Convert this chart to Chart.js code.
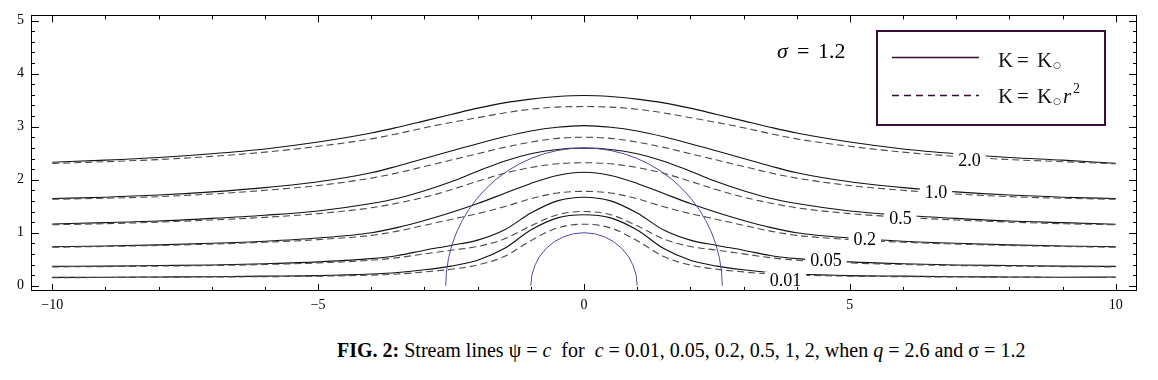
<!DOCTYPE html>
<html>
<head>
<meta charset="utf-8">
<script src="https://cdn.jsdelivr.net/npm/chart.js@4.4.0/dist/chart.umd.min.js"></script>
<style>
  html, body { margin: 0; padding: 0; background: #fff; }
  #wrap { position: relative; width: 1158px; height: 380px; }
  #c { position: absolute; left: 0; top: 0; }
  #cap { position: absolute; left: 337px; top: 338px; font-family: 'Liberation Serif', serif; font-size: 20px; white-space: pre; color: #000; line-height: 24px; }
</style>
</head>
<body>
<div id="wrap">
  <canvas id="c" width="1158" height="330"></canvas>
  <div id="cap"><b>FIG. 2:</b> Stream lines ψ = <i>c</i>  for  <i>c</i> = 0.01, 0.05, 0.2, 0.5, 1, 2, when <i>q</i> = 2.6 and σ = 1.2</div>
</div>
<script>
// ---- data ----
const xs = [-10,-9,-8,-7,-6,-5,-4,-3.5,-3,-2.5,-2,-1.5,-1,-0.5,0,0.5,1,1.5,2,2.5,3,3.5,4,5,6,7,8,9,10];

// K = K0 (solid)
const solid_2    = [2.33,2.37,2.42,2.49,2.58,2.71,2.88,2.99,3.11,3.23,3.35,3.45,3.52,3.57,3.59,3.57,3.52,3.45,3.35,3.23,3.11,2.99,2.88,2.71,2.58,2.49,2.42,2.37,2.31];
const solid_1    = [1.645,1.67,1.71,1.77,1.85,1.96,2.13,2.26,2.40,2.54,2.68,2.81,2.92,2.99,3.02,2.99,2.92,2.81,2.68,2.54,2.40,2.26,2.13,1.96,1.85,1.77,1.71,1.67,1.645];
const solid_05   = [1.165,1.19,1.22,1.27,1.33,1.41,1.55,1.65,1.79,1.96,2.16,2.35,2.49,2.57,2.595,2.57,2.49,2.35,2.16,1.96,1.79,1.65,1.55,1.41,1.33,1.27,1.22,1.19,1.16];
const solid_02   = [0.735,0.75,0.77,0.80,0.84,0.90,1.00,1.10,1.23,1.38,1.55,1.74,1.93,2.08,2.14,2.08,1.93,1.74,1.55,1.38,1.23,1.10,1.00,0.90,0.84,0.80,0.77,0.75,0.735];
const solid_005  = [0.364,0.37,0.38,0.39,0.415,0.45,0.51,0.57,0.67,0.76,0.86,1.05,1.37,1.60,1.67,1.60,1.37,1.05,0.86,0.76,0.67,0.57,0.51,0.45,0.415,0.39,0.38,0.37,0.364];
const solid_001  = [0.157,0.16,0.165,0.17,0.18,0.19,0.22,0.25,0.30,0.37,0.48,0.70,1.05,1.28,1.34,1.28,1.05,0.70,0.48,0.37,0.30,0.25,0.22,0.19,0.18,0.17,0.165,0.16,0.165];

// K = K0 r^2 (dashed)
const dashed_2   = [2.305,2.34,2.38,2.44,2.52,2.63,2.77,2.87,2.98,3.08,3.17,3.26,3.33,3.37,3.38,3.37,3.33,3.26,3.17,3.08,2.98,2.87,2.77,2.63,2.52,2.44,2.38,2.34,2.30];
const dashed_1   = [1.63,1.65,1.68,1.73,1.80,1.89,2.03,2.13,2.25,2.37,2.49,2.61,2.71,2.78,2.80,2.78,2.71,2.61,2.49,2.37,2.25,2.13,2.03,1.89,1.80,1.73,1.68,1.65,1.63];
const dashed_05  = [1.15,1.17,1.20,1.24,1.29,1.36,1.47,1.56,1.67,1.81,1.97,2.12,2.23,2.30,2.32,2.30,2.23,2.12,1.97,1.81,1.67,1.56,1.47,1.36,1.29,1.24,1.20,1.17,1.15];
const dashed_02  = [0.725,0.74,0.76,0.785,0.82,0.87,0.95,1.03,1.14,1.25,1.36,1.49,1.64,1.75,1.78,1.75,1.64,1.49,1.36,1.25,1.14,1.03,0.95,0.87,0.82,0.785,0.76,0.74,0.725];
const dashed_005 = [0.355,0.36,0.37,0.38,0.40,0.43,0.48,0.53,0.60,0.67,0.74,0.88,1.13,1.34,1.40,1.34,1.13,0.88,0.74,0.67,0.60,0.53,0.48,0.43,0.40,0.38,0.37,0.36,0.355];
const dashed_001 = [0.15,0.155,0.16,0.165,0.17,0.18,0.20,0.22,0.26,0.31,0.39,0.55,0.85,1.09,1.16,1.09,0.85,0.55,0.39,0.31,0.26,0.22,0.20,0.18,0.17,0.165,0.16,0.155,0.155];

const contourLabels = ['2.0','1.0','0.5','0.2','0.05','0.01'];
const contourLabelX = [7.25, 6.62, 5.95, 5.28, 4.55, 3.79];
const contourLabelY = [2.37, 1.77, 1.275, 0.867, 0.477, 0.10];

const circleRadii = [1, 2.6];   // inner sphere r = 1, outer q = 2.6

const xTickValues = [-10,-5,0,5,10];
const yTickValues = [0,1,2,3,4,5];

// ---- build ----
const solids  = [solid_2, solid_1, solid_05, solid_02, solid_005, solid_001];
const dasheds = [dashed_2, dashed_1, dashed_05, dashed_02, dashed_005, dashed_001];
const pts = arr => arr.map((v,i) => ({x: xs[i], y: v}));

const datasets = [];
dasheds.forEach(a => datasets.push({data: pts(a), borderColor:'#4a4a4a', borderWidth:1.1, borderDash:[7,4], pointRadius:0, cubicInterpolationMode:'monotone', fill:false}));
solids.forEach(a => datasets.push({data: pts(a), borderColor:'#111', borderWidth:1.1, pointRadius:0, cubicInterpolationMode:'monotone', fill:false}));

Chart.defaults.font.family = "'Liberation Serif', serif";
Chart.defaults.color = '#000';

const decor = {
  id: 'decor',
  afterDatasetsDraw(chart) {
    const {ctx, chartArea: a, scales: {x, y}} = chart;
    ctx.save();
    ctx.beginPath(); ctx.rect(a.left, a.top, a.right - a.left, a.bottom - a.top); ctx.clip();
    ctx.strokeStyle = '#4b4ba8'; ctx.lineWidth = 1;
    const cx = x.getPixelForValue(0), cy = y.getPixelForValue(0);
    circleRadii.forEach(r => {
      const rx = x.getPixelForValue(r) - cx, ry = cy - y.getPixelForValue(r);
      ctx.beginPath(); ctx.ellipse(cx, cy, rx, ry, 0, Math.PI, 2 * Math.PI); ctx.stroke();
    });
    ctx.font = "18px 'Liberation Serif'";
    ctx.textAlign = 'center'; ctx.textBaseline = 'middle';
    contourLabels.forEach((t, i) => {
      const px = x.getPixelForValue(contourLabelX[i]), py = y.getPixelForValue(contourLabelY[i]);
      const w = ctx.measureText(t).width + 10;
      ctx.fillStyle = '#fff'; ctx.fillRect(px - w/2, py - 9, w, 16);
      ctx.fillStyle = '#000'; ctx.fillText(t, px, py + 1);
    });
    ctx.restore();
  },
  afterDraw(chart) {
    const {ctx, chartArea: a, scales: {x, y}} = chart;
    ctx.save();
    ctx.strokeStyle = '#000'; ctx.lineWidth = 1;
    ctx.strokeRect(Math.round(a.left) + 0.5, Math.round(a.top) + 0.5, Math.round(a.right - a.left) - 1, Math.round(a.bottom - a.top) - 1);
    const line = (x1, y1, x2, y2) => { ctx.beginPath(); ctx.moveTo(x1, y1); ctx.lineTo(x2, y2); ctx.stroke(); };
    for (let v = -10; v <= 10; v++) {
      const px = Math.round(x.getPixelForValue(v)) + 0.5;
      const len = (v % 5 === 0) ? 7 : 4;
      line(px, a.bottom, px, a.bottom - len);
      line(px, a.top, px, a.top + len);
    }
    for (let k = 0; k <= 25; k++) {
      const py = Math.round(y.getPixelForValue(k * 0.2)) + 0.5;
      const len = (k % 5 === 0) ? 8 : 4;
      line(a.left, py, a.left + len, py);
      line(a.right, py, a.right - len, py);
    }
    // sigma annotation
    ctx.fillStyle = '#000'; ctx.textBaseline = 'alphabetic'; ctx.textAlign = 'left';
    ctx.font = "italic 22px 'Liberation Serif'"; ctx.fillText('σ', 777, 58);
    ctx.font = "22px 'Liberation Serif'"; ctx.fillText('=', 797, 58); ctx.fillText('1.2', 818, 58);
    // legend
    ctx.strokeStyle = '#3a0c3a'; ctx.lineWidth = 2;
    ctx.strokeRect(877, 31, 228, 94);
    ctx.lineWidth = 1.6;
    line(892, 57.5, 979, 57.5);
    ctx.setLineDash([7, 5]); line(892, 95.5, 979, 95.5); ctx.setLineDash([]);
    ctx.fillStyle = '#111';
    const row = (by, withR) => {
      ctx.font = "21px 'Liberation Serif'";
      ctx.fillText('K', 998, by); ctx.fillText('=', 1017, by); ctx.fillText('K', 1037, by);
      ctx.font = "9px 'DejaVu Sans'"; ctx.fillText('○', 1053, by + 1);
      if (withR) {
        ctx.font = "italic 21px 'Liberation Serif'"; ctx.fillText('r', 1063, by);
        ctx.font = "14px 'Liberation Serif'"; ctx.fillText('2', 1073, by - 10);
      }
    };
    row(67, false);
    row(103, true);
    ctx.restore();
  }
};

new Chart(document.getElementById('c'), {
  type: 'line',
  data: { datasets },
  options: {
    responsive: false,
    animation: false,
    devicePixelRatio: 1,
    layout: { padding: { left: 0, top: 15, right: 21, bottom: 0 } },
    plugins: { legend: { display: false }, tooltip: { enabled: false } },
    scales: {
      x: {
        type: 'linear', min: -10.4, max: 10.4,
        afterBuildTicks: s => { s.ticks = xTickValues.map(v => ({value: v})); },
        afterFit: s => { s.height = 39; },
        grid: { display: false, drawTicks: false },
        border: { display: false },
        ticks: { padding: 6, font: { size: 14 }, color: '#000', maxRotation: 0, callback: v => String(v).replace('-', '−') }
      },
      y: {
        type: 'linear', min: -0.1, max: 5.1,
        afterBuildTicks: s => { s.ticks = yTickValues.map(v => ({value: v})); },
        afterFit: s => { s.width = 31; },
        grid: { display: false, drawTicks: false },
        border: { display: false },
        ticks: { padding: 7, font: { size: 14 }, color: '#000' }
      }
    }
  },
  plugins: [decor]
});
</script>
</body>
</html>
